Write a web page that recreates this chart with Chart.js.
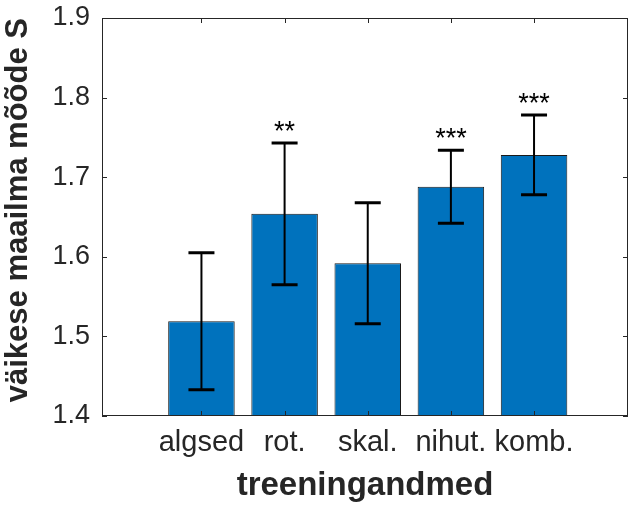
<!DOCTYPE html>
<html>
<head>
<meta charset="utf-8">
<script src="https://cdn.jsdelivr.net/npm/chart.js@4.4.1/dist/chart.umd.min.js"></script>
<style>
  html, body { margin: 0; padding: 0; background: #fff; }
  #wrap { width: 637px; height: 506px; }
</style>
</head>
<body>
<div id="wrap"><canvas id="myChart" width="637" height="506"></canvas></div>
<script>
// Data

const categories = ["algsed", "rot.", "skal.", "nihut.", "komb."];
const positions = [1, 2, 3, 4, 5];
const means = [1.519, 1.654, 1.592, 1.688, 1.728];
const errors = [0.086, 0.089, 0.076, 0.046, 0.050];
const stars = ["", "**", "", "***", "***"];
const yTicks = [1.4, 1.5, 1.6, 1.7, 1.8, 1.9];

const axisColor = "#262626";
const fontFamily = "'Liberation Sans', Arial, Helvetica, sans-serif";


// Error bars + significance stars

const errorBars = {
  id: "errorBars",
  afterDatasetsDraw(chart) {
    const { ctx } = chart;
    const y = chart.scales.y;
    const meta = chart.getDatasetMeta(0);
    ctx.save();
    ctx.strokeStyle = "#000";
    meta.data.forEach((bar, i) => {
      const x = bar.x;
      const top = y.getPixelForValue(means[i] + errors[i]);
      const bottom = y.getPixelForValue(means[i] - errors[i]);
      ctx.lineWidth = 2;
      ctx.beginPath();
      ctx.moveTo(x, top);
      ctx.lineTo(x, bottom);
      ctx.stroke();
      ctx.lineWidth = 3;
      ctx.beginPath();
      ctx.moveTo(x - 13, top);
      ctx.lineTo(x + 13, top);
      ctx.moveTo(x - 13, bottom);
      ctx.lineTo(x + 13, bottom);
      ctx.stroke();

      if (stars[i]) {
        ctx.fillStyle = "#000";
        ctx.font = "27px " + fontFamily;
        ctx.textAlign = "center";
        ctx.textBaseline = "alphabetic";
        ctx.fillText(stars[i], x, top - 3);
      }
    });
    ctx.restore();
  }
};


// MATLAB style box with inward ticks

const boxTicks = {
  id: "boxTicks",
  afterDraw(chart) {
    const { ctx, chartArea: a } = chart;
    const xs = chart.scales.x;
    const ys = chart.scales.y;
    const len = 5;
    ctx.save();
    ctx.strokeStyle = axisColor;
    ctx.lineWidth = 1;
    ctx.strokeRect(a.left + 0.5, a.top + 0.5, a.right - a.left - 1, a.bottom - a.top - 1);
    ctx.beginPath();
    positions.forEach((p) => {
      const px = Math.round(xs.getPixelForValue(p)) + 0.5;
      ctx.moveTo(px, a.bottom);
      ctx.lineTo(px, a.bottom - len);
      ctx.moveTo(px, a.top);
      ctx.lineTo(px, a.top + len);
    });
    yTicks.forEach((v) => {
      const py = Math.round(ys.getPixelForValue(v)) + 0.5;
      ctx.moveTo(a.left, py);
      ctx.lineTo(a.left + len, py);
      ctx.moveTo(a.right, py);
      ctx.lineTo(a.right - len, py);
    });
    ctx.stroke();
    ctx.restore();
  }
};


// Bar Chart

const ctx = document.getElementById("myChart").getContext("2d");

const myChart = new Chart(ctx, {
  type: "bar",
  data: {
    datasets: [{
      data: positions.map((p, i) => ({ x: p, y: means[i] })),
      backgroundColor: "#0072BD",
      borderColor: "#1a1a1a",
      borderWidth: 1,
      borderSkipped: false,
      categoryPercentage: 1,
      barPercentage: 0.8,
      base: 1.4
    }]
  },
  options: {
    responsive: false,
    animation: false,
    devicePixelRatio: 1,
    layout: { padding: { left: 0, right: 9, top: 18, bottom: 0 } },
    plugins: {
      legend: { display: false },
      tooltip: { enabled: false }
    },
    scales: {
      x: {
        type: "linear",
        offset: false,
        min: -0.196,
        max: 6.13,
        afterBuildTicks: (scale) => {
          scale.ticks = positions.map((p) => ({ value: p }));
        },
        afterFit: (scale) => {
          scale.height = 90;
          scale.paddingLeft = 0;
          scale.paddingRight = 0;
        },
        ticks: {
          color: axisColor,
          font: { family: fontFamily, size: 29 },
          padding: 10,
          maxRotation: 0,
          autoSkip: false,
          callback: (v, i) => categories[i]
        },
        grid: { display: false, drawTicks: false },
        border: { display: false },
        title: {
          display: true,
          text: "treeningandmed",
          color: axisColor,
          font: { family: fontFamily, size: 33, weight: "bold" },
          padding: { top: 3, bottom: 0 }
        }
      },
      y: {
        min: 1.4,
        max: 1.9,
        afterBuildTicks: (scale) => {
          scale.ticks = yTicks.map((v) => ({ value: v }));
        },
        afterFit: (scale) => {
          scale.width = 102;
          scale.paddingTop = 0;
          scale.paddingBottom = 0;
        },
        ticks: {
          color: axisColor,
          font: { family: fontFamily, size: 27 },
          padding: 12,
          callback: (v) => v.toFixed(1)
        },
        grid: { display: false, drawTicks: false },
        border: { display: false },
        title: {
          display: true,
          text: "väikese maailma mõõde S",
          align: "end",
          color: axisColor,
          font: { family: fontFamily, size: 31, weight: "bold" },
          padding: { top: 0, bottom: 0 }
        }
      }
    }
  },
  plugins: [errorBars, boxTicks]
});
</script>
</body>
</html>
